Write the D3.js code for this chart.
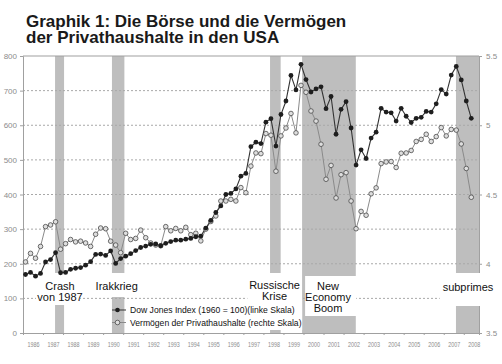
<!DOCTYPE html>
<html>
<head>
<meta charset="utf-8">
<script src="https://cdn.jsdelivr.net/npm/d3@7"></script>
<style>
  body { margin: 0; background: #fff; }
  svg { display: block; }
  .axis path, .axis line { stroke: #a0a0a0; }
</style>
</head>
<body>
<svg id="chart" width="502" height="364"></svg>
<script>
const svg = d3.select("#chart");

const width = +svg.attr("width");
const height = +svg.attr("height");
const font = "Liberation Sans, Arial, sans-serif";

const margin = { top: 56, right: 23, bottom: 31, left: 23 };
const innerWidth = width - margin.left - margin.right;
const innerHeight = height - margin.top - margin.bottom;

// quarterly observations, 1986 Q1 .. 2008 Q2
const startYear = 1986;

// Dow Jones Index (1960 = 100), left scale
const dowJones = [
  169, 175, 164, 172, 205, 212, 232, 174,
  175, 184, 187, 189, 196, 206, 227, 228,
  224, 237, 201, 215, 222, 229, 238, 247,
  251, 256, 257, 252, 259, 264, 268, 268,
  271, 273, 278, 280, 303, 325, 348, 367,
  400, 403, 416, 453, 461, 538, 551, 547,
  609, 619, 540, 631, 670, 744, 702, 776,
  732, 696, 705, 711, 648, 683, 574, 646,
  668, 592, 485, 529, 504, 563, 580, 649,
  638, 636, 612, 649, 626, 608, 620, 623,
  640, 638, 662, 703, 690, 745, 770, 731,
  670, 620
];

// Vermögen der Privathaushalte, right scale
const wealth = [
  4.013, 4.075, 4.040, 4.125, 4.268, 4.280, 4.303, 4.105,
  4.145, 4.175, 4.158, 4.163, 4.150, 4.125, 4.213, 4.258,
  4.253, 4.163, 4.135, 4.080, 4.220, 4.175, 4.183, 4.243,
  4.188, 4.150, 4.135, 4.130, 4.268, 4.238, 4.255, 4.238,
  4.263, 4.210, 4.220, 4.165, 4.250, 4.305, 4.345, 4.453,
  4.453, 4.465, 4.453, 4.550, 4.513, 4.705, 4.800, 4.795,
  4.940, 4.928, 4.668, 4.923, 4.980, 5.085, 4.945, 5.288,
  5.238, 5.103, 5.030, 4.863, 4.610, 4.710, 4.475, 4.643,
  4.658, 4.453, 4.253, 4.378, 4.350, 4.505, 4.548, 4.723,
  4.735, 4.738, 4.695, 4.798, 4.800, 4.818, 4.883, 4.898,
  4.935, 4.883, 4.918, 4.983, 4.923, 4.970, 4.965, 4.865,
  4.688, 4.480
];

const yearLabels = [
  1986, 1987, 1988, 1989, 1990, 1991, 1992, 1993, 1994, 1995, 1996, 1997,
  1998, 1999, 2000, 2001, 2002, 2003, 2004, 2005, 2006, 2007, 2008
];
const leftTicks = [0, 100, 200, 300, 400, 500, 600, 700, 800];
const rightTicks = [3.5, 4, 4.5, 5, 5.5];

const events = [
  { lines: ["Crash", "von 1987"], start: 1987.6, end: 1988.05 },
  { lines: ["Irakkrieg"], start: 1990.44, end: 1991.06 },
  { lines: ["Russische", "Krise"], start: 1998.33, end: 1998.86 },
  { lines: ["New", "Economy", "Boom"], start: 1999.93, end: 2002.61 },
  { lines: ["subprimes"], start: 2007.61, end: 2008.76 }
];

const seriesNames = [
  "Dow Jones Index (1960 = 100)(linke Skala)",
  "Vermögen der Privathaushalte (rechte Skala)"
];

const timeOf = i => startYear + (i + 0.5) / 4;

const x = d3.scaleLinear()
  .domain([1986, 2008.76])
  .range([0, innerWidth]);

const yLeft = d3.scaleLinear()
  .domain([0, 800])
  .range([innerHeight, 0]);

const yRight = d3.scaleLinear()
  .domain([3.5, 5.5])
  .range([innerHeight, 0]);

[["Graphik 1: Die Börse und die Vermögen", 26.5], ["der Privathaushalte in den USA", 43]]
  .forEach(([txt, y]) => {
    svg.append("text")
      .attr("x", 26)
      .attr("y", y)
      .attr("font-family", font)
      .attr("font-size", 17)
      .attr("font-weight", "bold")
      .attr("fill", "#1a1a1a")
      .text(txt);
  });

const g = svg.append("g")
  .attr("transform", `translate(${margin.left}, ${margin.top})`);

// shaded event periods
g.selectAll(".band")
  .data(events)
  .enter()
  .append("rect")
  .attr("class", "band")
  .attr("x", d => x(d.start))
  .attr("y", 0)
  .attr("width", d => x(d.end) - x(d.start))
  .attr("height", innerHeight)
  .attr("fill", "#bebebe");

// dotted grid
g.selectAll(".grid")
  .data(leftTicks.filter(d => d > 0 && d < 800))
  .enter()
  .append("line")
  .attr("class", "grid")
  .attr("x1", 0)
  .attr("x2", innerWidth)
  .attr("y1", d => yLeft(d))
  .attr("y2", d => yLeft(d))
  .attr("stroke", "#a8a8a8")
  .attr("stroke-width", 1)
  .attr("stroke-dasharray", "2,2");

g.append("line")
  .attr("x1", 0)
  .attr("x2", innerWidth)
  .attr("y1", yLeft(800))
  .attr("y2", yLeft(800))
  .attr("stroke", "#a0a0a0")
  .attr("stroke-width", 1.2);

function styleTicks(sel) {
  sel.selectAll("text")
    .attr("font-family", font)
    .attr("font-size", 8)
    .attr("fill", "#8c8c8c");
}

g.append("g")
  .attr("class", "axis")
  .call(d3.axisLeft(yLeft).tickValues(leftTicks).tickSize(3).tickPadding(3))
  .call(styleTicks);

g.append("g")
  .attr("class", "axis")
  .attr("transform", `translate(${innerWidth}, 0)`)
  .call(d3.axisRight(yRight).tickValues(rightTicks).tickSize(3).tickPadding(4)
    .tickFormat(d => String(d)))
  .call(styleTicks);

const xTicks = g.append("g")
  .attr("class", "axis")
  .attr("transform", `translate(0, ${innerHeight})`)
  .call(d3.axisBottom(x).tickValues(yearLabels).tickSize(2));
xTicks.selectAll("text").remove();

const xLabels = g.append("g")
  .attr("class", "axis")
  .attr("transform", `translate(0, ${innerHeight})`)
  .call(d3.axisBottom(x).tickValues(yearLabels.map(d => d + 0.5)).tickSize(0).tickPadding(9)
    .tickFormat(d => String(Math.floor(d))))
  .call(styleTicks);

xLabels.select(".domain").remove();
xLabels.selectAll("text")
  .attr("font-size", 7.6)
  .attr("textLength", 12)
  .attr("lengthAdjust", "spacingAndGlyphs");

// white boxes behind the event labels
const boxes = [
  { x0: 1986.65, x1: 1988.85, y0: 273, y1: 305 },
  { x0: 1989.55, x1: 1991.85, y0: 273, y1: 297 },
  { x0: 1997.2, x1: 1999.9, y0: 273, y1: 301 },
  { x0: 2000.08, x1: 2002.63, y0: 276, y1: 316 },
  { x0: 2006.8, x1: 2009.6, y0: 273, y1: 306 }
];

g.selectAll(".label-box")
  .data(boxes)
  .enter()
  .append("rect")
  .attr("class", "label-box")
  .attr("x", d => x(d.x0))
  .attr("y", d => d.y0 - margin.top)
  .attr("width", d => x(d.x1) - x(d.x0))
  .attr("height", d => d.y1 - d.y0)
  .attr("fill", "#fff");

// legend box
g.append("rect")
  .attr("x", x(1991.15))
  .attr("y", 300 - margin.top)
  .attr("width", 176)
  .attr("height", 30)
  .attr("fill", "#fff");

const labelPos = [
  { cx: 60, y: 290 },
  { cx: 116.7, y: 290 },
  { cx: 274.5, y: 289 },
  { cx: 328, y: 290 },
  { cx: 468, y: 291 }
];

events.forEach((ev, k) => {
  ev.lines.forEach((line, j) => {
    svg.append("text")
      .attr("text-anchor", "middle")
      .attr("x", labelPos[k].cx)
      .attr("y", labelPos[k].y + j * 11)
      .attr("font-family", font)
      .attr("font-size", 11)
      .attr("fill", "#111")
      .text(line);
  });
});

// series
const djPoints = dowJones.map((v, i) => ({ t: timeOf(i), v }));
const wPoints = wealth.map((v, i) => ({ t: timeOf(i), v }));

g.append("path")
  .datum(wPoints)
  .attr("fill", "none")
  .attr("stroke", "#8a8a8a")
  .attr("stroke-width", 1)
  .attr("d", d3.line().x(d => x(d.t)).y(d => yRight(d.v)));

g.append("path")
  .datum(djPoints)
  .attr("fill", "none")
  .attr("stroke", "#333")
  .attr("stroke-width", 1.1)
  .attr("d", d3.line().x(d => x(d.t)).y(d => yLeft(d.v)));

g.selectAll(".w-dot")
  .data(wPoints)
  .enter()
  .append("circle")
  .attr("class", "w-dot")
  .attr("cx", d => x(d.t))
  .attr("cy", d => yRight(d.v))
  .attr("r", 2.3)
  .attr("fill", "#dedede")
  .attr("stroke", "#4a4a4a")
  .attr("stroke-width", 0.8);

g.selectAll(".dj-dot")
  .data(djPoints)
  .enter()
  .append("circle")
  .attr("class", "dj-dot")
  .attr("cx", d => x(d.t))
  .attr("cy", d => yLeft(d.v))
  .attr("r", 2.4)
  .attr("fill", "#1e1e1e");

// legend
const legend = svg.append("g")
  .attr("transform", "translate(112, 310)");

seriesNames.forEach((name, i) => {
  const row = legend.append("g")
    .attr("transform", `translate(0, ${i * 12.5})`);

  row.append("line")
    .attr("x1", 0)
    .attr("x2", 14)
    .attr("stroke", i === 0 ? "#333" : "#8a8a8a")
    .attr("stroke-width", 1);

  row.append("circle")
    .attr("cx", 5.5)
    .attr("r", 2.3)
    .attr("fill", i === 0 ? "#1e1e1e" : "#dedede")
    .attr("stroke", i === 0 ? "none" : "#4a4a4a")
    .attr("stroke-width", 0.8);

  row.append("text")
    .attr("x", 18)
    .attr("y", 3)
    .attr("font-family", font)
    .attr("font-size", 8.6)
    .attr("fill", "#111")
    .text(name);
});
</script>
</body>
</html>
